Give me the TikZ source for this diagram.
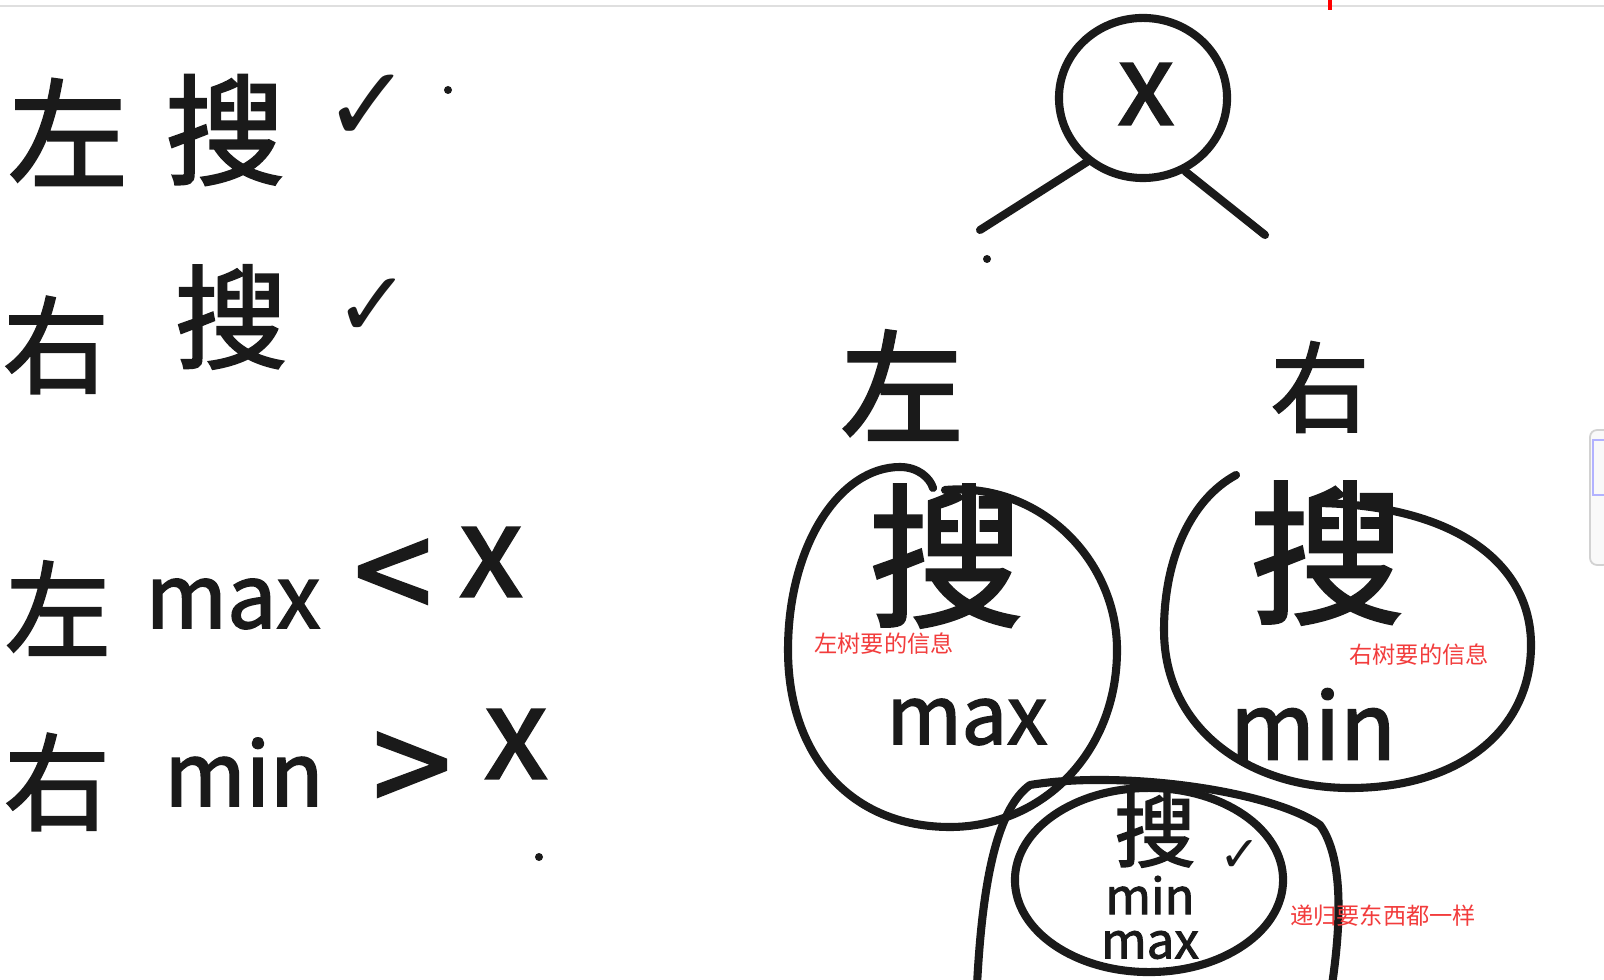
\documentclass[tikz,border=0pt]{standalone}
\usepackage{fontspec}
\usetikzlibrary{shapes.geometric}
\setmainfont{Noto Sans CJK SC}
\newfontfamily\hand{Noto Sans CJK SC}[FakeBold=2]
\newfontfamily\sym{DejaVu Sans}
\definecolor{inkc}{HTML}{1A1A1A}
\definecolor{redtxt}{HTML}{F23C3C}
\tikzset{
  ink/.style={line width=2.3pt, draw=inkc, line cap=round, line join=round},
  hw/.style={inner sep=0pt, text=inkc, font=\hand},
  note/.style={inner sep=0pt, text=redtxt, font=\fontsize{6.6pt}{7pt}\selectfont},
  dotmark/.style={fill=inkc, draw=none}
}
\begin{document}
\begin{tikzpicture}[x=0.01cm, y=-0.01cm]
\useasboundingbox (0,0) rectangle (1604,980);
\fill[white] (0,0) rectangle (1604,980);
% top UI strip
\draw[gray!25, line width=0.6pt] (0,6) -- (1604,6);
\draw[red, line width=1.2pt] (1330,0) -- (1330,10);
% right side UI panel
\draw[gray!35, fill=gray!5, rounded corners=2pt, line width=0.5pt] (1590,430) rectangle (1610,565);
\draw[blue!30, line width=0.5pt] (1593,440) rectangle (1610,495);

% ---------- left column ----------
\node[hw, font=\hand\fontsize{34pt}{36pt}\selectfont] (l1a) at (68,132) {左};
\node[hw, font=\hand\fontsize{34pt}{36pt}\selectfont] (l1b) at (225,130) {搜};
\node[hw, font=\sym\bfseries\fontsize{30pt}{32pt}\selectfont] (l1c) at (368,108) {✓};
\fill[dotmark] (448,90) circle (4);

\node[hw, font=\hand\fontsize{30pt}{32pt}\selectfont] (l2a) at (56,345) {右};
\node[hw, font=\hand\fontsize{32pt}{34pt}\selectfont] (l2b) at (231,317) {搜};
\node[hw, font=\sym\bfseries\fontsize{26pt}{28pt}\selectfont] (l2c) at (373,308) {✓};

\node[hw, font=\hand\fontsize{30pt}{32pt}\selectfont] (l3a) at (58,608) {左};
\node[hw, font=\hand\fontsize{25pt}{27pt}\selectfont] (l3b) at (233,604) {max};
\node[hw, font=\hand\fontsize{40pt}{42pt}\selectfont] (l3c) at (393,582) {<};
\node[hw, font=\hand\fontsize{36pt}{38pt}\selectfont] (l3d) at (491,562) {x};

\node[hw, font=\hand\fontsize{30pt}{32pt}\selectfont] (l4a) at (57,782) {右};
\node[hw, font=\hand\fontsize{25pt}{27pt}\selectfont] (l4b) at (244,772) {min};
\node[hw, font=\hand\fontsize{40pt}{42pt}\selectfont] (l4c) at (412,775) {>};
\node[hw, font=\hand\fontsize{36pt}{38pt}\selectfont] (l4d) at (516,744) {x};
\fill[dotmark] (539,857) circle (4);

% ---------- tree ----------
\node[ink, ellipse, minimum width=1.68cm, minimum height=1.6cm, inner sep=0pt] (root) at (1143,98) {};
\node[hw, font=\hand\fontsize{32pt}{34pt}\selectfont] (rx) at (1146,94) {x};
\coordinate (lend) at (980,230);
\coordinate (rend) at (1265,235);
\draw[ink] (root.-135) ++(5,3) -- (lend);
\draw[ink] (root.-60) -- (rend);
\fill[dotmark] (987,259) circle (4);

\node[hw, font=\hand\fontsize{35pt}{37pt}\selectfont] (tl) at (902,385) {左};
\node[hw, font=\hand\fontsize{28pt}{30pt}\selectfont] (tr) at (1320,387) {右};

% left subtree circle
\draw[ink] (945,490) .. controls (1040,482) and (1117,560) .. (1117,650)
  .. controls (1117,755) and (1040,827) .. (950,827)
  .. controls (850,827) and (788,755) .. (788,650)
  .. controls (788,545) and (840,467) .. (900,467)
  .. controls (918,467) and (930,478) .. (933,488);
\node[hw, font=\hand\fontsize{44pt}{46pt}\selectfont] (ls) at (946,556) {搜};
\node[note] (ln) at (884,644) {左树要的信息};
\node[hw, font=\hand\fontsize{23pt}{25pt}\selectfont] (lm) at (967,722) {max};

% right subtree circle
\draw[ink] (1236,475) .. controls (1190,500) and (1164,560) .. (1164,630)
  .. controls (1164,730) and (1250,788) .. (1350,788)
  .. controls (1460,788) and (1531,730) .. (1531,645)
  .. controls (1531,560) and (1450,505) .. (1317,503);
\node[hw, font=\hand\fontsize{44pt}{46pt}\selectfont] (rs) at (1327,553) {搜};
\node[note] (rn) at (1419,655) {右树要的信息};
\node[hw, font=\hand\fontsize{26pt}{28pt}\selectfont] (rm) at (1313,724) {min};

% bottom recursion blob
\draw[ink] (977,985) .. controls (982,890) and (995,810) .. (1030,785)
  .. controls (1120,770) and (1270,790) .. (1320,825)
  .. controls (1345,860) and (1340,930) .. (1332,985);
\node[ink, ellipse, minimum width=2.68cm, minimum height=1.84cm, inner sep=0pt] (inner) at (1149,880) {};
\node[hw, font=\hand\fontsize{23pt}{25pt}\selectfont] (bs) at (1155,830) {搜};
\node[hw, font=\sym\bfseries\fontsize{14pt}{15pt}\selectfont] (bc) at (1240,856) {✓};
\node[hw, font=\hand\fontsize{14pt}{15pt}\selectfont] (bmin) at (1150,895) {min};
\node[hw, font=\hand\fontsize{14pt}{15pt}\selectfont] (bmax) at (1150,945) {max};
\node[note] (bn) at (1383,916) {递归要东西都一样};
\end{tikzpicture}
\end{document}
